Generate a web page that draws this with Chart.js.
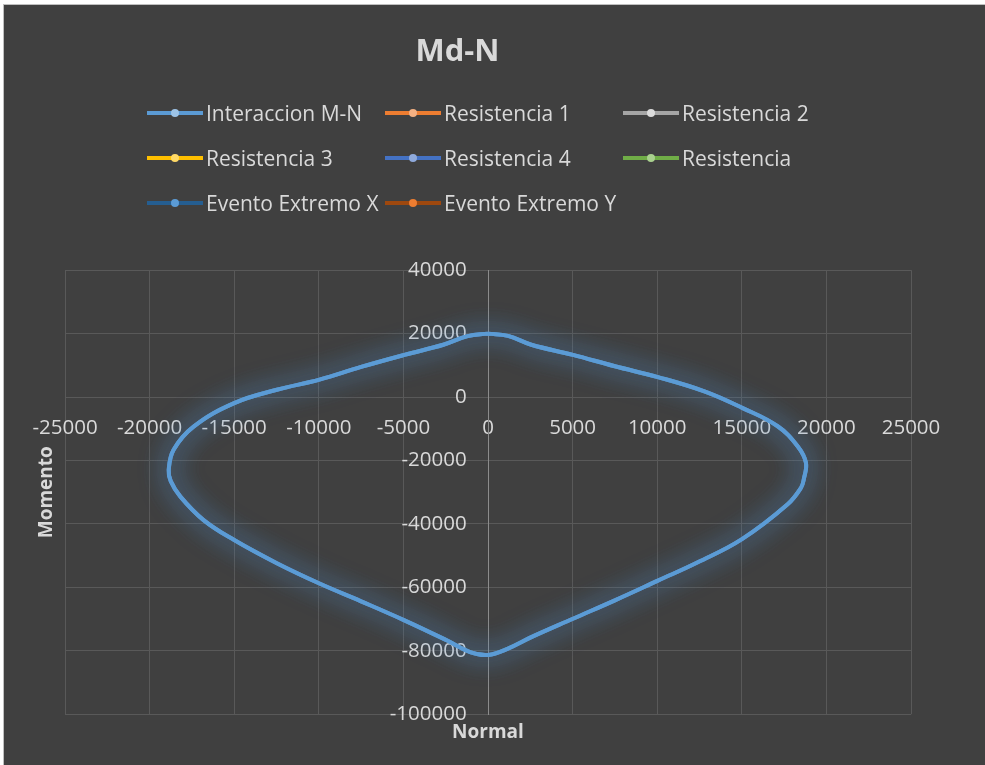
<!DOCTYPE html>
<html>
<head>
<meta charset="utf-8">
<script src="https://cdn.jsdelivr.net/npm/chart.js@4.4.0/dist/chart.umd.min.js"></script>
<style>
 body{margin:0;background:#fff;}
 #frame{position:absolute;left:3px;top:4px;width:981px;height:760px;border-left:1px solid #bfbfbf;border-top:1px solid #bfbfbf;background:#404040;overflow:hidden;}
 #myChart{position:absolute;left:0;top:0;}
 #legend{position:absolute;left:143px;top:93px;width:720px;font-family:'Open Sans';font-size:21px;color:#d9d9d9;}
 .item{position:absolute;display:flex;align-items:center;height:30px;}
 .line{position:relative;width:56px;height:4px;}
 .dot{position:absolute;left:24px;top:-2px;width:8px;height:8px;border-radius:50%;}
 .txt{margin-left:3px;white-space:nowrap;}
</style>
</head>
<body>
<div id="frame">
 <canvas id="myChart" width="981" height="760"></canvas>
 <div id="legend"></div>
</div>
<script>
 //series
 const seriesNames = ['Interaccion M-N','Resistencia 1','Resistencia 2','Resistencia 3','Resistencia 4','Resistencia','Evento Extremo X','Evento Extremo Y'];
 const lineColors = ['#5b9bd5','#ed7d31','#a5a5a5','#ffc000','#4472c4','#70ad47','#255e91','#9e480e'];
 const dotColors = ['#9dc3e6','#f4b183','#dbdbdb','#ffd966','#8faadc','#a9d18e','#5b9bd5','#ed7d31'];

 //Interaccion M-N (Normal, Momento)
 const normal = [0, 1180, 2560, 5020, 7500, 10040, 12790, 15020, 17120, 18300,
   18790, 18660, 18500, 17710, 15010, 12400, 10040, 7500, 5020, 2560,
   1180, 0, -1060, -2440, -4940, -7500, -9960, -12480, -15000, -16810,
   -18180, -18750, -18870, -18580, -17400, -15000, -12480, -9960, -7500, -4940,
   -2640, -1200, 0];
 const momento = [20000, 19300, 16500, 13300, 9700, 6300, 1800, -3400, -9200, -15500,
   -20700, -26000, -28600, -33800, -44800, -52100, -57900, -64100, -69900, -75700,
   -79300, -81300, -80400, -76700, -70400, -64400, -58800, -52400, -45100, -38800,
   -31400, -26500, -23000, -16600, -9300, -1900, 2300, 5500, 9500, 13300,
   16500, 19200, 20000];
 //other series have no points drawn
 const otherSeries = [[], [], [], [], [], [], []];

 //ticks
 const xTicks = [-25000, -20000, -15000, -10000, -5000, 0, 5000, 10000, 15000, 20000, 25000];
 const yTicks = [-100000, -80000, -60000, -40000, -20000, 0, 20000, 40000];

 Chart.defaults.font.family = "'Open Sans'";
 Chart.defaults.color = '#d9d9d9';

 // soft glow round the first line (drawn once more with a shadow before the normal pass)
 const glow = {
   id: 'glow',
   beforeDatasetDraw(chart, args){
     if(args.index !== 0) return;
     const ctx = chart.ctx;
     ctx.save();
     ctx.shadowColor = 'rgba(80,140,200,0.85)';
     ctx.shadowBlur = 26;
     args.meta.dataset.draw(ctx, chart.chartArea);
   },
   afterDatasetDraw(chart, args){
     if(args.index !== 0) return;
     chart.ctx.restore();
   }
 };

 const datasets = seriesNames.map((name, i) => ({
   label: name,
   data: i === 0 ? normal.map((n, k) => ({x: n, y: momento[k]})) : otherSeries[i-1],
   xAxisID: 'x',
   yAxisID: 'y',
   showLine: true,
   borderColor: lineColors[i],
   backgroundColor: dotColors[i],
   pointBackgroundColor: dotColors[i],
   borderWidth: 4,
   pointRadius: 0,
   tension: 0.4
 }));

 const CHART = document.getElementById('myChart');
 const myChart = new Chart(CHART, {
   type: 'scatter',
   data: { datasets: datasets },
   options: {
     responsive: false,
     animation: false,
     layout: { padding: { top: 0, right: 74, bottom: 0, left: 0 } },
     plugins: {
       legend: { display: false },
       tooltip: { enabled: false },
       title: { display: true, text: 'Md-N', color: '#d9d9d9', font: { size: 31, weight: 'bold' }, padding: { top: 29, bottom: 199 } }
     },
     scales: {
       x: {
         type: 'linear', position: { y: 0 }, min: xTicks[0], max: xTicks[xTicks.length-1],
         afterBuildTicks: s => { s.ticks = xTicks.map(v => ({ value: v })); },
         grid: { color: '#595959', drawTicks: false },
         border: { color: '#595959' },
         ticks: { color: '#d9d9d9', font: { size: 20.5 }, padding: 19, autoSkip: false, maxRotation: 0, callback: v => String(v) }
       },
       y: {
         type: 'linear', position: { x: 0 }, min: yTicks[0], max: yTicks[yTicks.length-1],
         afterBuildTicks: s => { s.ticks = yTicks.map(v => ({ value: v })); },
         grid: { color: '#595959', drawTicks: false },
         border: { color: '#8c8c8c' },
         ticks: { color: '#d9d9d9', font: { size: 20.5 }, autoSkip: false, callback: v => v + '    ' }
       },
       xTitle: {
         type: 'linear', axis: 'x', position: 'bottom',
         ticks: { display: false }, grid: { display: false, drawTicks: false }, border: { display: false },
         title: { display: true, text: 'Normal', color: '#d9d9d9', font: { size: 19, weight: 'bold' }, padding: { top: 7, bottom: 21 } }
       },
       yTitle: {
         type: 'linear', axis: 'y', position: 'left',
         ticks: { display: false }, grid: { display: false, drawTicks: false }, border: { display: false },
         title: { display: true, text: 'Momento', color: '#d9d9d9', font: { size: 19, weight: 'bold' }, padding: { top: 31.6, bottom: 6.6 } }
       }
     }
   },
   plugins: [glow]
 });

 //LEGEND
 let output_legend = "";
 myChart.data.datasets.forEach((ds, i) => {
   const col = i % 3, row = Math.floor(i / 3);
   output_legend += `
   <div class="item" style="left:${col*238}px;top:${row*45}px;">
     <div class="line" style="background-color:${ds.borderColor};">
       <div class="dot" style="background-color:${ds.pointBackgroundColor};"></div>
     </div>
     <span class="txt">${ds.label}</span>
   </div>`;
 });
 document.querySelector("#legend").innerHTML = output_legend;
</script>
</body>
</html>
